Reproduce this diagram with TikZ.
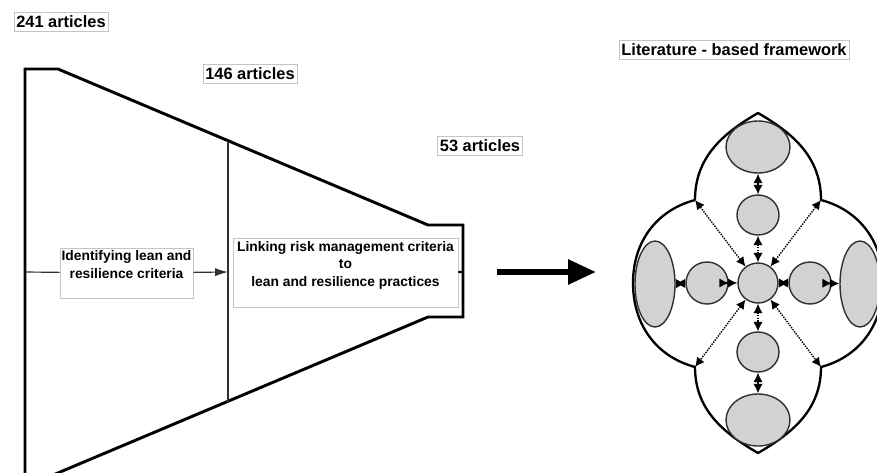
\documentclass[tikz,border=0pt]{standalone}
\usepackage{fontspec}
\setmainfont{Liberation Sans}
\usetikzlibrary{arrows.meta}
\usetikzlibrary{shapes.geometric}
\definecolor{ovalgray}{HTML}{D2D2D2}
\definecolor{edgegray}{HTML}{C4C4C4}
\definecolor{inkgray}{HTML}{303030}

\begin{document}
\begin{tikzpicture}[x=0.03cm,y=0.03cm,
  tag/.style={draw=edgegray, line width=.4pt, inner xsep=2pt, inner ysep=3pt, font=\fontsize{14}{16}\selectfont\bfseries},
  stage/.style={draw=edgegray, line width=.5pt, align=center, inner sep=0pt, font=\fontsize{11.8}{15}\selectfont\bfseries},
  blob/.style={ellipse, draw=inkgray, fill=ovalgray, line width=1.2pt, inner sep=0pt},
  link/.style={line width=1.2pt, <->, >={Latex[length=8pt,width=8pt]}},
  dotlink/.style={link, densely dotted},
  frame/.style={line width=2pt, line join=round}]
\useasboundingbox (0,0) rectangle (877,-472);
% funnel of articles
\draw[line width=2.5pt, line join=miter] (25,-475) -- (25,-69) -- (58,-69) -- (428,-225) -- (463,-225) -- (463,-317) -- (428,-317) -- (53,-475) -- (25,-475);
\draw[line width=1pt, inkgray] (228,-141) -- (228,-402);
\coordinate (fin) at (25,-272);
\coordinate (div) at (228,-272);
\coordinate (fout) at (463,-272);
\node[tag] (n241) at (61,-22) {241 articles};
\node[tag] (n146) at (250,-74) {146 articles};
\node[tag] (n53) at (480,-146) {53 articles};
\node[stage, minimum width=3.99cm, minimum height=1.5cm] (ident) at (126.5,-273) {Identifying lean and\\resilience criteria\\\mbox{}};
\node[stage, minimum width=6.75cm, minimum height=2.07cm] (linking) at (345.5,-272.5) {Linking risk management criteria\\to\\lean and resilience practices\\\mbox{}};
\draw[line width=1pt, inkgray] (fin) -- (ident);
\draw[line width=1pt, inkgray, -{Latex[length=11pt,width=7pt]}] (ident) -- (div);
\draw[line width=2pt] (linking) -- (fout);
% big arrow
\coordinate (ar1) at (497,-272);
\coordinate (ar2) at (596,-272);
\draw[line width=5pt, -{Triangle[length=0.84cm,width=0.72cm]}] (ar1) -- (ar2);
% framework
\node[tag] (nfw) at (734,-50) {Literature - based framework};
\coordinate (j1) at (695,-200);
\coordinate (j2) at (821,-200);
\coordinate (j3) at (695,-367);
\coordinate (j4) at (821,-367);
\draw[frame] (j1) to[out=90,in=210] (758,-113) to[out=-30,in=90] (j2)
  to[out=-15,in=90] (883,-283) to[out=-90,in=15] (j4)
  to[out=-90,in=30] (758,-453) to[out=150,in=-90] (j3)
  to[out=165,in=-90] (633,-283) to[out=90,in=195] (j1);
\node[blob, minimum width=1.2cm, minimum height=1.2cm] (cen) at (758,-283) {};
\node[blob, minimum width=1.26cm, minimum height=1.2cm] (itop) at (758,-215) {};
\node[blob, minimum width=1.26cm, minimum height=1.2cm] (ibot) at (758,-352) {};
\node[blob, minimum width=1.26cm, minimum height=1.26cm] (ileft) at (707,-283) {};
\node[blob, minimum width=1.26cm, minimum height=1.26cm] (iright) at (810,-283) {};
\node[blob, minimum width=1.92cm, minimum height=1.56cm] (otop) at (758,-147) {};
\node[blob, minimum width=1.92cm, minimum height=1.56cm] (obot) at (758,-420) {};
\node[blob, minimum width=1.2cm, minimum height=2.58cm] (oleft) at (655,-284) {};
\node[blob, minimum width=1.2cm, minimum height=2.58cm] (oright) at (860,-284) {};
\draw[link] (otop) -- (itop);
\draw[dotlink] (itop) -- (cen);
\draw[dotlink] (cen) -- (ibot);
\draw[link] (ibot) -- (obot);
\draw[link] (oleft) -- (ileft);
\draw[link] (ileft) -- (cen);
\draw[link] (cen) -- (iright);
\draw[link] (iright) -- (oright);
\draw[dotlink] (cen) -- (j1);
\draw[dotlink] (cen) -- (j2);
\draw[dotlink] (cen) -- (j3);
\draw[dotlink] (cen) -- (j4);
\end{tikzpicture}
\end{document}
